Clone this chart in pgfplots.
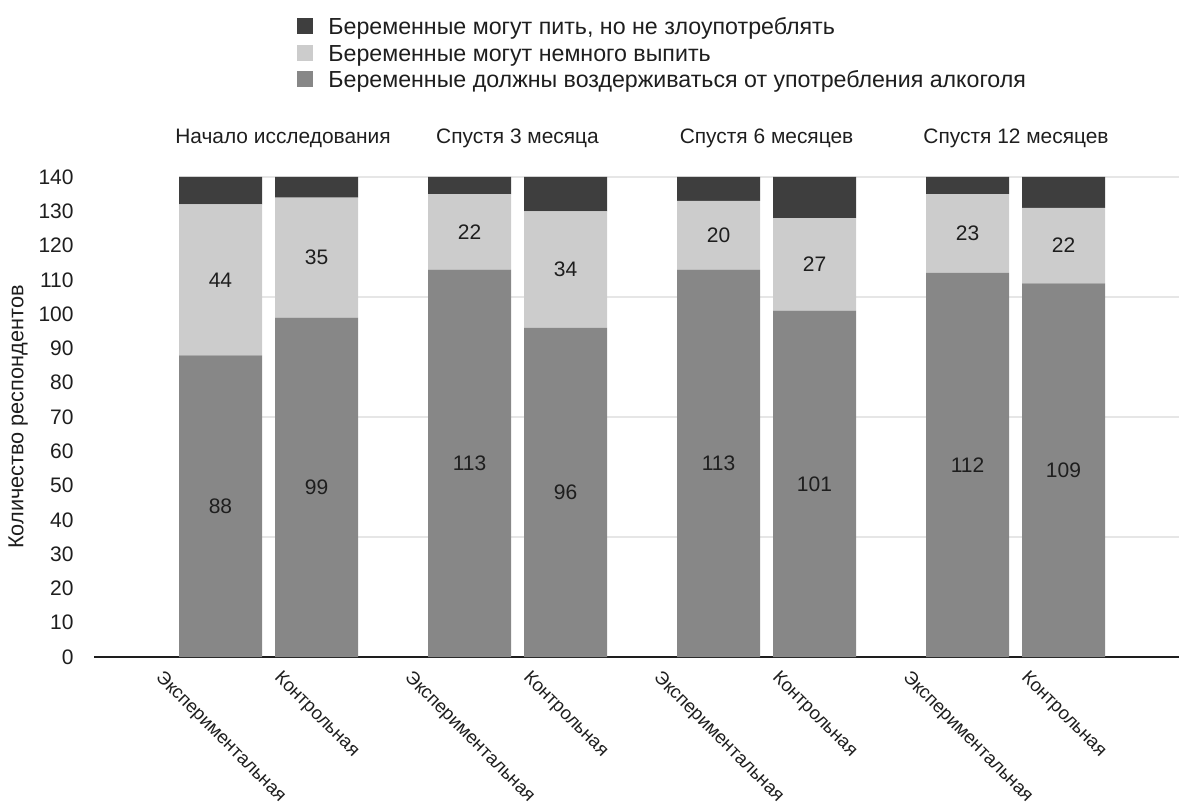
\documentclass[border=0pt]{standalone}
\usepackage{fontspec}
\setmainfont{Liberation Sans}
\usepackage{graphicx}
\usepackage{pgfplots}
\usepackage{pgfplotstable}
\pgfplotsset{compat=1.18}

\definecolor{cAbst}{HTML}{878787}
\definecolor{cLittle}{HTML}{CCCCCC}
\definecolor{cModer}{HTML}{3E3E3E}
\definecolor{cGrid}{HTML}{E6E6E6}
\definecolor{cText}{HTML}{1E1E1E}

% x: bar position; a: abstain; b: a little; c: in moderation
\pgfplotstableread{
x    a   b   c
0    88  44  8
0.96 99  35  6
2.49 113 22  5
3.45 96  34  10
4.98 113 20  7
5.94 101 27  12
7.47 112 23  5
8.43 109 22  9
}\survey

\pgfplotsset{
  frame/.style={
    at={(47bp,74bp)}, anchor=south west,
    scale only axis, width=542.5bp, height=240bp,
    xmin=-1.265, xmax=9.585, ymin=0, ymax=140,
  }
}
\newcommand{\fs}[1]{\fontsize{#1bp}{1.2\dimexpr#1bp\relax}\selectfont}

\begin{document}
\begin{tikzpicture}[font=\fs{10.5}, text=cText]
\useasboundingbox (0,0) rectangle (589.5bp,402.5bp);

% horizontal guide lines behind the bars
\begin{axis}[frame, hide axis]
\draw[cGrid, line width=0.6bp] (axis cs:-0.415,35) -- (axis cs:9.585,35);
\draw[cGrid, line width=0.6bp] (axis cs:-0.415,70) -- (axis cs:9.585,70);
\draw[cGrid, line width=0.6bp] (axis cs:-0.415,105) -- (axis cs:9.585,105);
\draw[cGrid, line width=0.6bp] (axis cs:-0.415,140) -- (axis cs:9.585,140);
\end{axis}

\begin{axis}[
  frame, clip=false,
  ybar stacked, bar width=0.83,
  axis x line*=bottom, axis y line*=left,
  x axis line style={draw=cText, line width=1bp},
  y axis line style={draw=none},
  major tick length=0pt,
  /pgf/number format/assume math mode=true,
  ytick={0,10,...,140},
  yticklabel style={inner sep=0pt, anchor=east, xshift=-10bp, font=\fs{10.5}},
  xtick={0,0.96,2.49,3.45,4.98,5.94,7.47,8.43},
  xticklabels={
    \rotatebox{-45}{Экспериментальная}, \rotatebox{-45}{Контрольная},
    \rotatebox{-45}{Экспериментальная}, \rotatebox{-45}{Контрольная},
    \rotatebox{-45}{Экспериментальная}, \rotatebox{-45}{Контрольная},
    \rotatebox{-45}{Экспериментальная}, \rotatebox{-45}{Контрольная}},
  xticklabel style={inner sep=0pt, anchor=north, yshift=-6bp, font=\fs{9.3}},
  ylabel={Количество респондентов},
  every axis y label/.style={at={(axis description cs:-0.070,0.5)}, rotate=90,
    anchor=center, font=\fs{10.85}},
  legend style={draw=none, fill=none, inner sep=0pt, font=\fs{11.6},
    at={(axis description cs:0.1871,1.3330)}, anchor=north west,
    cells={anchor=west},
    nodes={inner sep=0pt, text height=8.5bp, text depth=2.3bp},
    row sep=2.45bp, column sep=7.5bp},
  reverse legend,
  legend image code/.code={\fill[#1] (0bp,-3bp) rectangle (8bp,5bp);},
  % values written in the middle of each stacked segment
  nodes near coords={\pgfplotspointmeta},
  point meta=explicit symbolic,
  every node near coord/.append style={anchor=center, inner sep=0pt, font=\fs{10.5}},
]
\addplot[fill=cAbst, draw=none] table[x=x, y=a, meta=a]{\survey};
\addplot[fill=cLittle, draw=none] table[x=x, y=b, meta=b]{\survey};
\addplot[fill=cModer, draw=none, nodes near coords={}] table[x=x, y=c, meta=c]{\survey};

\legend{Беременные должны воздерживаться от употребления алкоголя,
        Беременные могут немного выпить,
        {Беременные могут пить, но не злоупотреблять}}

% period titles above each pair of bars
\node[anchor=center, font=\fs{10.45}] at ([yshift=19.5bp]axis cs:0.625,140) {Начало исследования};
\node[anchor=center, font=\fs{10.45}] at ([yshift=19.5bp]axis cs:2.97,140) {Спустя 3 месяца};
\node[anchor=center, font=\fs{10.45}] at ([yshift=19.5bp]axis cs:5.46,140) {Спустя 6 месяцев};
\node[anchor=center, font=\fs{10.45}] at ([yshift=19.5bp]axis cs:7.955,140) {Спустя 12 месяцев};
\end{axis}
\end{tikzpicture}
\end{document}
